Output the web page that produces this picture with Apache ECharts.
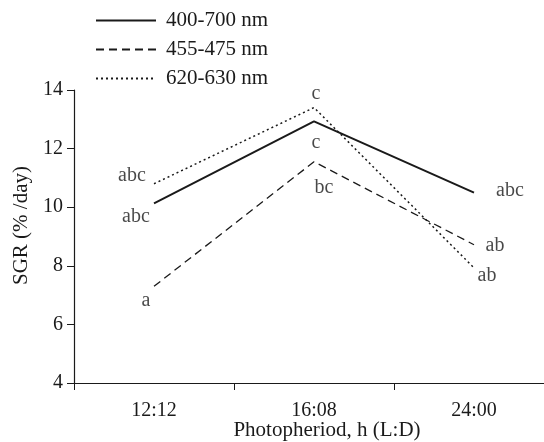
<!DOCTYPE html>
<html>
<head>
<meta charset="utf-8">
<script src="https://cdn.jsdelivr.net/npm/echarts@6/dist/echarts.min.js"></script>
<style>
  html, body { margin: 0; padding: 0; background: #fff; }
  #chart { width: 544px; height: 442px; }
</style>
</head>
<body>
<div id="chart"></div>
<script>
// 光周期类别
let categories = ['12:12', '16:08', '24:00'];

// 各波段 SGR 数据
let seriesNames = ['400-700 nm', '455-475 nm', '620-630 nm'];
let white = [10.13, 12.93, 10.5];
let blue = [7.3, 11.55, 8.72];
let red = [10.8, 13.4, 7.93];

// 显著性标记
let whiteMarks = ['abc', 'c', 'abc'];
let blueMarks = ['a', 'bc', 'ab'];
let redMarks = ['abc', 'c', 'ab'];

// y 轴刻度
let yTicks = [4, 6, 8, 10, 12, 14];

const font = 'Liberation Serif';
const ink = '#1a1a1a';

// 每个标记相对数据点的偏移
let whiteOffset = [[-18, 13], [2, 21], [36, -2]];
let blueOffset = [[-8, 14], [10, 26], [21, 1]];
let redOffset = [[-22, -8], [2, -14], [13, 8]];

// 折线
function lineSeries(name, values, type, width) {
  return {
    name,
    type: 'line',
    symbol: 'none',
    data: values,
    lineStyle: { color: ink, width, type },
    itemStyle: { color: ink },
    emphasis: { disabled: true },
    z: 2
  };
}

// 标记文字（不进图例）
function markSeries(name, values, marks, offsets) {
  return {
    name: name + ' marks',
    type: 'scatter',
    symbolSize: 0,
    silent: true,
    data: values.map((v, i) => ({
      value: v,
      label: {
        show: true,
        formatter: marks[i],
        position: 'inside',
        offset: offsets[i],
        color: ink,
        fontFamily: font,
        fontSize: 20
      }
    })),
    z: 3
  };
}

let chart = echarts.init(document.getElementById('chart'));

chart.setOption({
  backgroundColor: '#ffffff',
  animation: false,
  legend: {
    orient: 'vertical',
    left: 95,
    top: 10,
    padding: 0,
    itemWidth: 60,
    itemHeight: 14,
    itemGap: 8,
    itemStyle: { opacity: 0 },
    textStyle: { fontFamily: font, fontSize: 21, color: ink, padding: [0, 0, 0, 5] },
    data: seriesNames
  },
  grid: { left: 74, top: 90, right: -10, bottom: 59, outerBoundsMode: 'none', containLabel: false },
  xAxis: {
    type: 'category',
    data: categories,
    boundaryGap: true,
    axisLine: { lineStyle: { color: ink, width: 1.2 } },
    axisTick: { show: true, length: 7, inside: false, lineStyle: { color: ink } },
    axisLabel: { fontFamily: font, fontSize: 20, color: ink, margin: 18 },
    name: 'Photopheriod, h (L:D)',
    nameLocation: 'middle',
    nameGap: 37,
    nameMoveOverlap: false,
    nameTextStyle: { fontFamily: font, fontSize: 21, color: ink, padding: [0, 0, 0, 26] }
  },
  yAxis: {
    type: 'value',
    min: yTicks[0],
    max: yTicks[yTicks.length - 1],
    interval: 2,
    splitLine: { show: false },
    axisLine: { show: true, lineStyle: { color: ink, width: 1.2 } },
    axisTick: { show: true, length: 7, lineStyle: { color: ink } },
    axisLabel: { fontFamily: font, fontSize: 20, color: ink, margin: 11 },
    name: 'SGR (% /day)',
    nameLocation: 'middle',
    nameGap: 40,
    nameTextStyle: { fontFamily: font, fontSize: 21, color: ink, padding: [0, 0, 0, 22] }
  },
  series: [
    lineSeries(seriesNames[0], white, 'solid', 2),
    lineSeries(seriesNames[1], blue, [8, 5], 1.3),
    lineSeries(seriesNames[2], red, [2, 3], 1.5),
    markSeries(seriesNames[0], white, whiteMarks, whiteOffset),
    markSeries(seriesNames[1], blue, blueMarks, blueOffset),
    markSeries(seriesNames[2], red, redMarks, redOffset)
  ]
});
</script>
</body>
</html>
